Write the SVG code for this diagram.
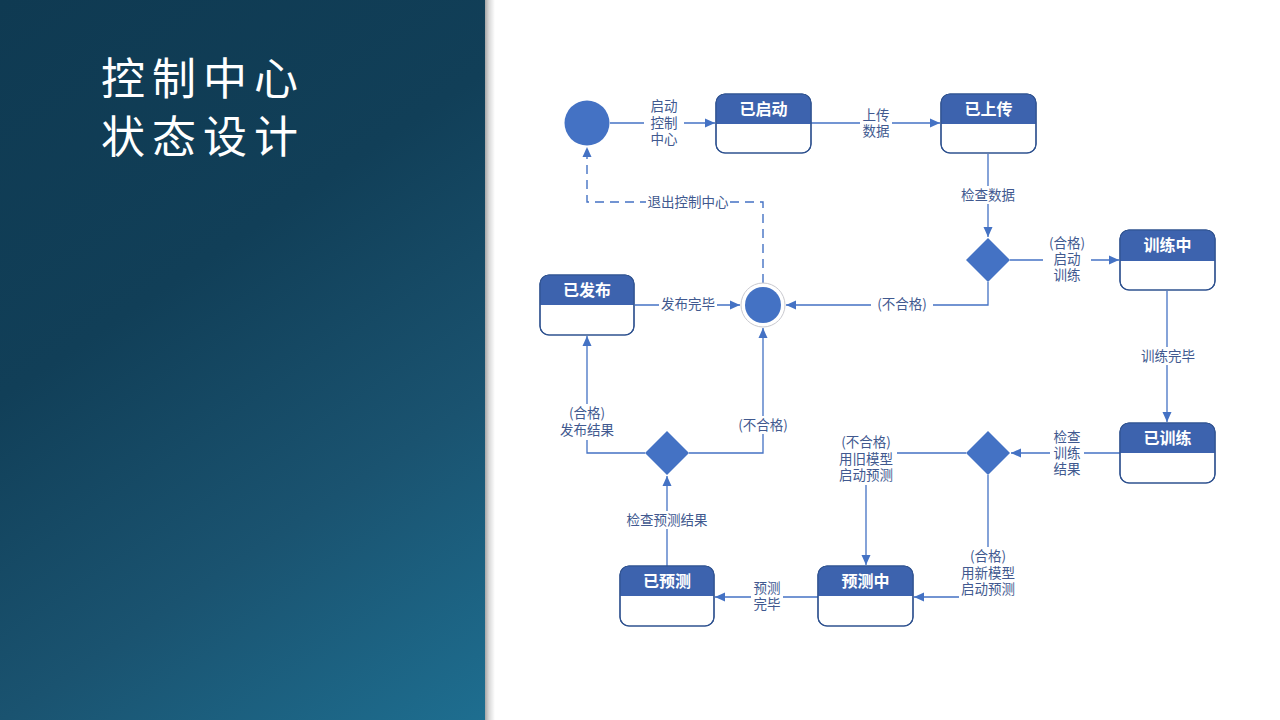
<svg xmlns="http://www.w3.org/2000/svg" width="1280" height="720" viewBox="0 0 1280 720">
  <defs>
    <linearGradient id="panelGrad" gradientUnits="userSpaceOnUse" x1="0" y1="0" x2="485" y2="720">
      <stop offset="0" stop-color="#0f3a52"/>
      <stop offset="0.38" stop-color="#113f58"/>
      <stop offset="0.69" stop-color="#1a5370"/>
      <stop offset="1" stop-color="#1e6e90"/>
    </linearGradient>
    <linearGradient id="shadowGrad" x1="0" y1="0" x2="1" y2="0">
      <stop offset="0" stop-color="#000" stop-opacity="0.35"/>
      <stop offset="0.4" stop-color="#000" stop-opacity="0.15"/>
      <stop offset="1" stop-color="#000" stop-opacity="0"/>
    </linearGradient>
    <marker id="arrow" viewBox="0 0 10 10" refX="10" refY="5" markerWidth="10" markerHeight="10" markerUnits="userSpaceOnUse" orient="auto">
      <path d="M0,0.5 L10,5 L0,9.5 Z" fill="#4472c4"/>
    </marker>
    <style>
      .title { font-family: "Noto Sans CJK SC", "Noto Sans CJK JP", sans-serif; font-size: 44px; font-weight: 400; fill: #ffffff; letter-spacing: 7px; }
      .conn { fill: none; stroke: #4472c4; stroke-width: 1.3; }
      .dash { stroke-dasharray: 9 6; stroke-width: 1.4; }
      .lbl-bg { fill: #ffffff; }
      .lbl { font-family: "Noto Sans CJK SC", "Microsoft YaHei", sans-serif; font-size: 13.5px; fill: #41598f; text-anchor: middle; }
      .box { fill: #ffffff; stroke: #2f528f; stroke-width: 1.2; }
      .frame { fill: none; stroke: #2f528f; stroke-width: 1.2; }
      .head { fill: #3d63ae; }
      .headtxt { font-family: "Noto Sans CJK SC", "Microsoft YaHei", sans-serif; font-size: 16px; font-weight: 700; fill: #ffffff; text-anchor: middle; dominant-baseline: central; }
      .diamond { fill: #4472c4; }
      .dot { fill: #4472c4; }
    </style>
  </defs>

  <!-- page background -->
  <rect x="0" y="0" width="1280" height="720" fill="#ffffff"/>

  <!-- left title panel with soft edge shadow -->
  <rect x="485" y="0" width="10" height="720" fill="url(#shadowGrad)"/>
  <rect x="0" y="0" width="485" height="720" fill="url(#panelGrad)"/>
  <text class="title" x="101" y="95">控制中心</text>
  <text class="title" x="101" y="153">状态设计</text>

  <!-- connectors -->
  <g id="connectors">
    <line class="conn" x1="610" y1="123" x2="715" y2="123" marker-end="url(#arrow)"/>
    <line class="conn" x1="811" y1="123" x2="940" y2="123" marker-end="url(#arrow)"/>
    <line class="conn" x1="988" y1="154" x2="988" y2="237" marker-end="url(#arrow)"/>
    <line class="conn" x1="1010" y1="260" x2="1119" y2="260" marker-end="url(#arrow)"/>
    <polyline class="conn" points="988,282 988,305 786,305" marker-end="url(#arrow)"/>
    <polyline class="conn dash" points="763,283 763,202 587,202 587,147" marker-end="url(#arrow)"/>
    <line class="conn" x1="635" y1="305" x2="740" y2="305" marker-end="url(#arrow)"/>
    <line class="conn" x1="1167" y1="291" x2="1167" y2="422" marker-end="url(#arrow)"/>
    <line class="conn" x1="1120" y1="453" x2="1011" y2="453" marker-end="url(#arrow)"/>
    <polyline class="conn" points="966,453 866,453 866,565" marker-end="url(#arrow)"/>
    <polyline class="conn" points="988,475 988,597 914,597" marker-end="url(#arrow)"/>
    <line class="conn" x1="818" y1="597" x2="715" y2="597" marker-end="url(#arrow)"/>
    <line class="conn" x1="667" y1="566" x2="667" y2="476" marker-end="url(#arrow)"/>
    <polyline class="conn" points="645,453 587,453 587,336" marker-end="url(#arrow)"/>
    <polyline class="conn" points="689,453 763,453 763,328" marker-end="url(#arrow)"/>

    <!-- transition labels (baseline = line centre + 5) -->
    <rect class="lbl-bg" x="644" y="98" width="40" height="50"/>
    <text class="lbl" y="111"><tspan x="664">启动</tspan><tspan x="664" dy="16.5">控制</tspan><tspan x="664" dy="16.5">中心</tspan></text>

    <rect class="lbl-bg" x="860" y="106" width="32" height="34"/>
    <text class="lbl" y="120"><tspan x="876">上传</tspan><tspan x="876" dy="16">数据</tspan></text>

    <rect class="lbl-bg" x="960" y="186" width="56" height="18"/>
    <text class="lbl" x="988" y="200">检查数据</text>

    <rect class="lbl-bg" x="646" y="193" width="84" height="18"/>
    <text class="lbl" x="688" y="207">退出控制中心</text>

    <rect class="lbl-bg" x="1043" y="234" width="48" height="50"/>
    <text class="lbl" y="248"><tspan x="1067">(合格)</tspan><tspan x="1067" dy="16">启动</tspan><tspan x="1067" dy="16">训练</tspan></text>

    <rect class="lbl-bg" x="659" y="296" width="58" height="18"/>
    <text class="lbl" x="688" y="309">发布完毕</text>

    <rect class="lbl-bg" x="871" y="296" width="62" height="18"/>
    <text class="lbl" x="902" y="309">(不合格)</text>

    <rect class="lbl-bg" x="1139" y="347" width="58" height="18"/>
    <text class="lbl" x="1168" y="361">训练完毕</text>

    <rect class="lbl-bg" x="557" y="404" width="60" height="36"/>
    <text class="lbl" y="418"><tspan x="587">(合格)</tspan><tspan x="587" dy="17">发布结果</tspan></text>

    <rect class="lbl-bg" x="734" y="416" width="60" height="18"/>
    <text class="lbl" x="763" y="430">(不合格)</text>

    <rect class="lbl-bg" x="835" y="433" width="62" height="52"/>
    <text class="lbl" y="447"><tspan x="866">(不合格)</tspan><tspan x="866" dy="16.5">用旧模型</tspan><tspan x="866" dy="16.5">启动预测</tspan></text>

    <rect class="lbl-bg" x="1050" y="428" width="34" height="50"/>
    <text class="lbl" y="442"><tspan x="1067">检查</tspan><tspan x="1067" dy="16">训练</tspan><tspan x="1067" dy="16">结果</tspan></text>

    <rect class="lbl-bg" x="625" y="511" width="84" height="18"/>
    <text class="lbl" x="667" y="525">检查预测结果</text>

    <rect class="lbl-bg" x="959" y="547" width="58" height="52"/>
    <text class="lbl" y="561"><tspan x="988">(合格)</tspan><tspan x="988" dy="16.5">用新模型</tspan><tspan x="988" dy="16.5">启动预测</tspan></text>

    <rect class="lbl-bg" x="751" y="579" width="32" height="34"/>
    <text class="lbl" y="593"><tspan x="767">预测</tspan><tspan x="767" dy="16">完毕</tspan></text>
  </g>

  <!-- pseudo states -->
  <g id="start">
    <circle class="dot" cx="587" cy="123" r="22.5"/>
  </g>
  <g id="end">
    <circle cx="763" cy="305" r="22" fill="#ffffff" stroke="#c9c9cf" stroke-width="1"/>
    <circle class="dot" cx="763" cy="305" r="18"/>
  </g>

  <!-- decision points -->
  <g id="check-data"><polygon class="diamond" points="988,238 1010,260 988,282 966,260"/></g>
  <g id="check-training"><polygon class="diamond" points="988,431 1010,453 988,475 966,453"/></g>
  <g id="check-prediction"><polygon class="diamond" points="667,431 689,453 667,475 645,453"/></g>

  <!-- states: white body, blue header band, outline on top -->
  <g id="started">
    <rect class="box" x="716" y="94" width="95" height="59" rx="9"/>
    <path class="head" d="M716,124 V103 A9,9 0 0 1 725,94 H802 A9,9 0 0 1 811,103 V124 Z"/>
    <rect class="frame" x="716" y="94" width="95" height="59" rx="9"/>
    <text class="headtxt" x="763.5" y="108">已启动</text>
  </g>
  <g id="uploaded">
    <rect class="box" x="941" y="94" width="95" height="59" rx="9"/>
    <path class="head" d="M941,124 V103 A9,9 0 0 1 950,94 H1027 A9,9 0 0 1 1036,103 V124 Z"/>
    <rect class="frame" x="941" y="94" width="95" height="59" rx="9"/>
    <text class="headtxt" x="988.5" y="108">已上传</text>
  </g>
  <g id="training">
    <rect class="box" x="1120" y="230" width="95" height="60" rx="9"/>
    <path class="head" d="M1120,261 V239 A9,9 0 0 1 1129,230 H1206 A9,9 0 0 1 1215,239 V261 Z"/>
    <rect class="frame" x="1120" y="230" width="95" height="60" rx="9"/>
    <text class="headtxt" x="1167.5" y="244">训练中</text>
  </g>
  <g id="trained">
    <rect class="box" x="1120" y="423" width="95" height="60" rx="9"/>
    <path class="head" d="M1120,453 V432 A9,9 0 0 1 1129,423 H1206 A9,9 0 0 1 1215,432 V453 Z"/>
    <rect class="frame" x="1120" y="423" width="95" height="60" rx="9"/>
    <text class="headtxt" x="1167.5" y="437">已训练</text>
  </g>
  <g id="published">
    <rect class="box" x="540" y="275" width="94" height="60" rx="9"/>
    <path class="head" d="M540,305 V284 A9,9 0 0 1 549,275 H625 A9,9 0 0 1 634,284 V305 Z"/>
    <rect class="frame" x="540" y="275" width="94" height="60" rx="9"/>
    <text class="headtxt" x="587" y="289">已发布</text>
  </g>
  <g id="predicting">
    <rect class="box" x="818" y="566" width="95" height="60" rx="9"/>
    <path class="head" d="M818,596 V575 A9,9 0 0 1 827,566 H904 A9,9 0 0 1 913,575 V596 Z"/>
    <rect class="frame" x="818" y="566" width="95" height="60" rx="9"/>
    <text class="headtxt" x="865.5" y="580">预测中</text>
  </g>
  <g id="predicted">
    <rect class="box" x="620" y="566" width="94" height="60" rx="9"/>
    <path class="head" d="M620,596 V575 A9,9 0 0 1 629,566 H705 A9,9 0 0 1 714,575 V596 Z"/>
    <rect class="frame" x="620" y="566" width="94" height="60" rx="9"/>
    <text class="headtxt" x="667" y="580">已预测</text>
  </g>
</svg>
